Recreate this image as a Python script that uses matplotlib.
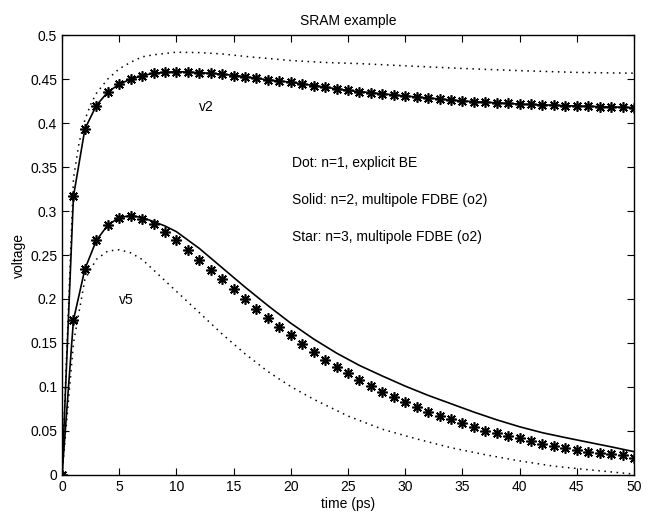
import matplotlib
matplotlib.use("Agg")
from matplotlib import pyplot as plt
from matplotlib.ticker import FormatStrFormatter

plt.rcParams['font.family'] = ['Liberation Sans', 'DejaVu Sans']

# star markers (n=3), one per ps
t_star = list(range(0, 51))
v2_star = [0, 0.3165, 0.3932, 0.4199, 0.4351, 0.4442, 0.4498, 0.4536, 0.4566, 0.4578,
           0.4584, 0.4584, 0.4573, 0.4566, 0.4555, 0.4539, 0.4528, 0.451, 0.449, 0.4479,
           0.4464, 0.4445, 0.4425, 0.4405, 0.4385, 0.437, 0.435, 0.4338, 0.4326, 0.4319,
           0.4307, 0.4295, 0.4283, 0.4272, 0.426, 0.4251, 0.4243, 0.4236, 0.4227, 0.4224,
           0.4215, 0.4211, 0.4206, 0.4202, 0.4198, 0.4193, 0.4189, 0.4185, 0.4185, 0.418,
           0.4176]
v5_star = [0, 0.176, 0.234, 0.2665, 0.2839, 0.2925, 0.2944, 0.291, 0.2852, 0.2767,
           0.267, 0.2562, 0.2448, 0.2335, 0.2222, 0.2109, 0.1995, 0.1886, 0.178, 0.1678,
           0.1588, 0.1493, 0.1402, 0.131, 0.123, 0.1155, 0.1079, 0.101, 0.0945, 0.0885,
           0.0824, 0.0767, 0.0721, 0.0671, 0.0632, 0.0586, 0.0545, 0.0504, 0.0473, 0.0447,
           0.0415, 0.0384, 0.0355, 0.0335, 0.0312, 0.0289, 0.0266, 0.0251, 0.0234, 0.0227,
           0.0198]

# solid (n=2)
t_v2_solid = [0, 1, 2, 3, 4, 5, 6, 7, 8, 10, 12, 14, 16, 18, 20, 25, 30, 35, 40, 45, 50]
v2_solid = [0, 0.3165, 0.3932, 0.4199, 0.4351, 0.4442, 0.4498, 0.4536, 0.4566, 0.4584,
            0.4573, 0.4555, 0.4528, 0.449, 0.4464, 0.437, 0.4307, 0.4251, 0.4215, 0.4193,
            0.4176]
t_v5_solid = [0, 1, 2, 3, 4, 5, 6, 7, 8, 9, 10, 12, 14, 16, 18, 20, 22, 24, 26, 28,
              30, 32, 34, 36, 38, 40, 42, 44, 46, 48, 50]
v5_solid = [0, 0.176, 0.234, 0.2665, 0.284, 0.2925, 0.2948, 0.2925, 0.288, 0.283,
            0.2765, 0.2575, 0.2355, 0.2135, 0.1925, 0.1725, 0.1545, 0.1385, 0.1245, 0.1125,
            0.101, 0.0905, 0.081, 0.0715, 0.0627, 0.0548, 0.048, 0.0425, 0.0372, 0.032,
            0.0265]

# dotted (n=1, explicit BE)
t_v2_dot = [0, 1, 1.5, 2, 2.5, 3, 4, 5, 6, 7, 8, 10, 12, 14, 16, 18, 20, 23, 26, 30,
            35, 40, 45, 50]
v2_dot = [0, 0.337, 0.378, 0.4035, 0.421, 0.4337, 0.45, 0.4616, 0.469, 0.4752, 0.4775,
          0.4805, 0.48, 0.4785, 0.4757, 0.4734, 0.471, 0.4688, 0.4675, 0.465, 0.462,
          0.4595, 0.4575, 0.4566]
t_v5_dot = [0, 1, 2, 3, 4, 5, 6, 7, 8, 10, 12, 14, 16, 18, 20, 22, 25, 28, 31, 34,
            37, 40, 43, 46, 50]
v5_dot = [0, 0.15, 0.222, 0.245, 0.2545, 0.256, 0.2525, 0.245, 0.233, 0.2087, 0.1845,
          0.1602, 0.1377, 0.1175, 0.1005, 0.086, 0.067, 0.052, 0.041, 0.031, 0.023,
          0.016, 0.010, 0.006, 0.001]

x_ticks = list(range(0, 51, 5))
y_ticks = [0, 0.05, 0.1, 0.15, 0.2, 0.25, 0.3, 0.35, 0.4, 0.45, 0.5]

notes = ["Dot: n=1, explicit BE",
         "Solid: n=2, multipole FDBE (o2)",
         "Star: n=3, multipole FDBE (o2)"]
note_y = [0.354, 0.313, 0.271]

fig = plt.figure(figsize=(6.5, 5.12), dpi=100)
ax = fig.add_axes([0.0954, 0.0723, 0.88, 0.8593])

dot_style = (0, (1, 3))
ax.plot(t_v2_dot, v2_dot, color='k', linestyle=dot_style, linewidth=1.1)
ax.plot(t_v5_dot, v5_dot, color='k', linestyle=dot_style, linewidth=1.1)
ax.plot(t_v2_solid, v2_solid, color='k', linewidth=1.2)
ax.plot(t_v5_solid, v5_solid, color='k', linewidth=1.2)
ax.plot(t_star, v2_star, linestyle='none', marker=(8, 2, 0), markersize=7.5,
        markeredgewidth=1.2, color='k')
ax.plot(t_star, v5_star, linestyle='none', marker=(8, 2, 0), markersize=7.5,
        markeredgewidth=1.2, color='k')

ax.text(12.0, 0.418, "v2", fontsize=10, va='center')
ax.text(5.0, 0.199, "v5", fontsize=10, va='center')
for txt, y in zip(notes, note_y):
    ax.text(20.1, y, txt, fontsize=10, va='center')

ax.set_xlim(0, 50)
ax.set_ylim(0, 0.5)
ax.set_xticks(x_ticks)
ax.set_yticks(y_ticks)
ax.yaxis.set_major_formatter(FormatStrFormatter('%g'))
ax.tick_params(direction='in', top=True, right=True, length=5, labelsize=10)
for s in ax.spines.values():
    s.set_linewidth(1.0)

ax.set_title("SRAM example", fontsize=10, pad=7)
ax.set_xlabel("time (ps)", fontsize=10, labelpad=2)
ax.set_ylabel("voltage", fontsize=10, labelpad=3)

fig.savefig("out.png", dpi=100)
